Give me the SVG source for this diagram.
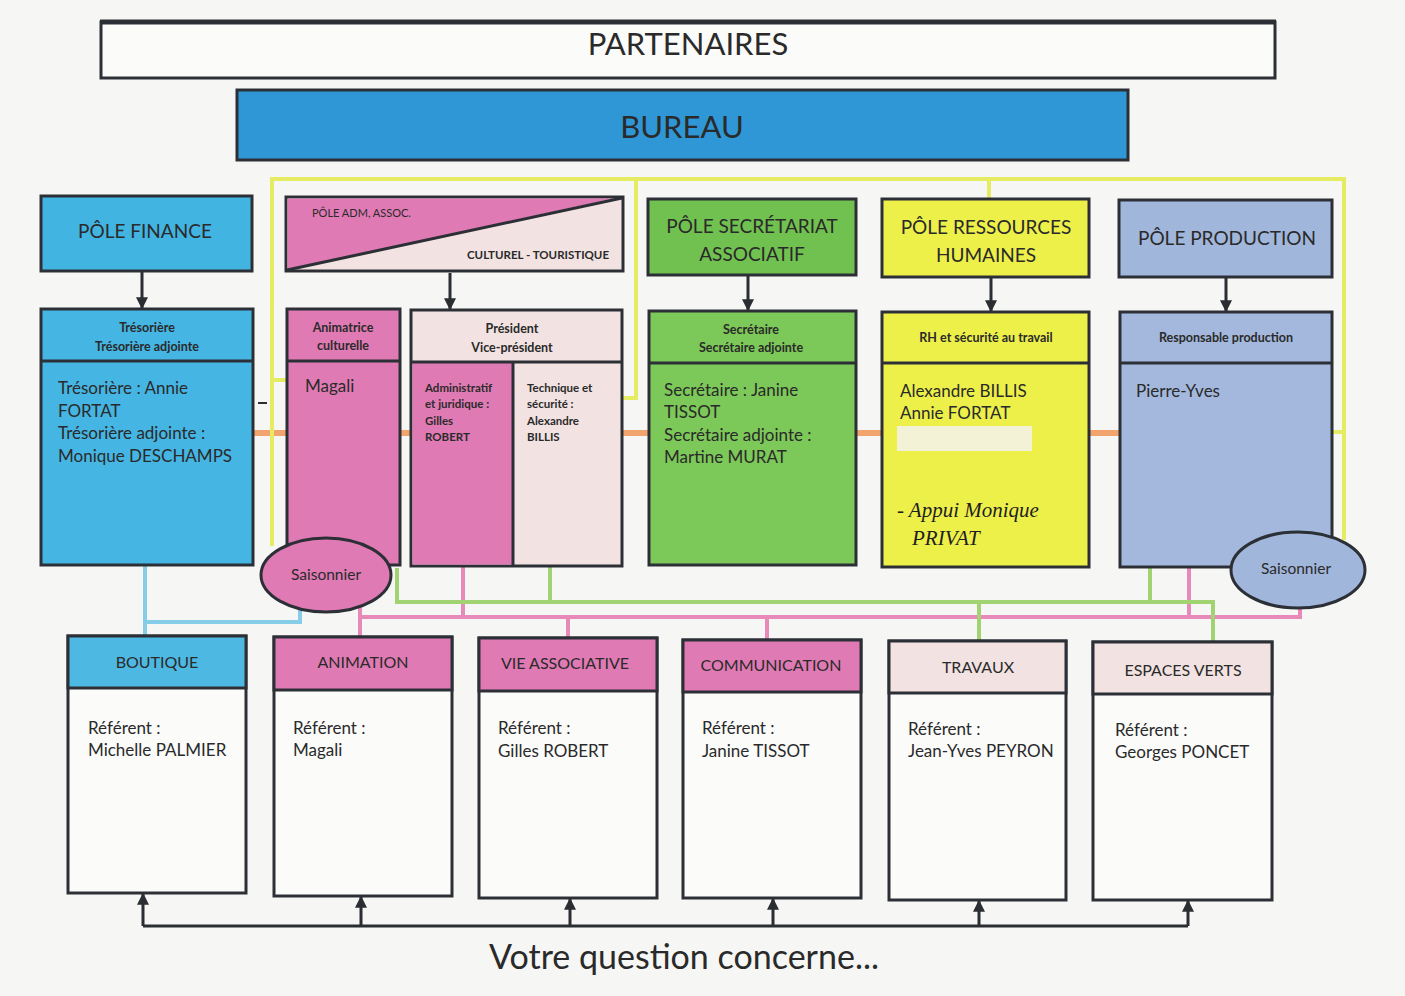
<svg xmlns="http://www.w3.org/2000/svg" width="1405" height="996" viewBox="0 0 1405 996">
<defs>
<marker id="ah" viewBox="0 0 10 10" refX="9" refY="5" markerWidth="4" markerHeight="4" orient="auto" markerUnits="strokeWidth"><path d="M0,0 L10,5 L0,10 z" fill="#2a2d31"/></marker>
<style>
.bx{stroke:#2c3036;stroke-width:3}
.t{font-family:Lato,"Liberation Sans",sans-serif;fill:#2a2a2a}
.big{font-size:31px;text-anchor:middle}
.pole{font-size:19px;text-anchor:middle}
.hd{font-size:12.5px;text-anchor:middle;font-weight:bold}
.body{font-size:17px}
.sm{font-size:11.5px;font-weight:bold}
.sub{font-size:16px;text-anchor:middle}
.hand{font-family:"Liberation Serif",serif;font-style:italic;font-size:21px;fill:#1e1e1e}
.arr{stroke:#2a2d31;stroke-width:3;fill:none;marker-end:url(#ah)}
.ly{stroke:#e6ec62;stroke-width:4;fill:none}
.lp{stroke:#e88ab9;stroke-width:4;fill:none}
.lg{stroke:#a2d372;stroke-width:4;fill:none}
.lb{stroke:#86cde8;stroke-width:4;fill:none}
.lo{stroke:#f2a46e;stroke-width:6;fill:none}
</style>
</defs>
<rect x="0" y="0" width="1405" height="996" fill="#f6f6f4"/>

<g id="connectors">
<path class="lo" d="M253,433H287M400,433H411M622,433H649M856,433H883M1089,433H1119"/>
<path class="ly" d="M272,546V179H1344V540M989,179V199M636,179V398H622M272,380H287M1331,432H1344"/>
<path class="lb" d="M145,566V636M145,622H300V608"/>
<path class="lp" d="M360,606V637M360,617H1300V607M463,567V617M568,617V638M767,617V641M1189,567V617"/>
<path class="lg" d="M397,568V602H1213V643M550,567V602M979,602V641M1150,567V602"/>
<path d="M258,403H267" stroke="#2a2d31" stroke-width="2"/>
<path class="arr" d="M142,271V308"/>
<path class="arr" d="M450,273V309"/>
<path class="arr" d="M748,275V310"/>
<path class="arr" d="M991,277V311"/>
<path class="arr" d="M1226,277V311"/>
<path d="M143,926H1188" stroke="#2a2d31" stroke-width="3" fill="none"/>
<path class="arr" d="M143,926V894"/>
<path class="arr" d="M361,926V897"/>
<path class="arr" d="M570,926V899"/>
<path class="arr" d="M773,926V899"/>
<path class="arr" d="M979,926V901"/>
<path class="arr" d="M1188,926V901"/>
</g>

<g id="partenaires">
<rect x="101" y="22" width="1174" height="56" fill="#fbfbfa" class="bx"/>
<line x1="100" y1="22" x2="1276" y2="22" stroke="#2c3036" stroke-width="5"/>
<text x="688" y="55" class="t big">PARTENAIRES</text>
</g>
<g id="bureau">
<rect x="237" y="90" width="891" height="70" fill="#2f97d5" class="bx"/>
<text x="682" y="138" class="t big">BUREAU</text>
</g>

<g id="pole-finance">
<rect x="41" y="196" width="211" height="75" fill="#42b4e2" class="bx"/>
<text x="145" y="238" class="t pole">PÔLE FINANCE</text>
</g>
<g id="tresoriere">
<rect x="41" y="309" width="212" height="256" fill="#45b5e3" class="bx"/>
<line x1="41" y1="361" x2="253" y2="361" class="bx"/>
<text x="147" y="332" class="t hd">Trésorière</text>
<text x="147" y="351" class="t hd">Trésorière adjointe</text>
<text class="t body"><tspan x="58" y="394">Trésorière : Annie</tspan><tspan x="58" y="417">FORTAT</tspan><tspan x="58" y="439">Trésorière adjointe :</tspan><tspan x="58" y="462">Monique DESCHAMPS</tspan></text>
</g>

<g id="pole-adm">
<rect x="286" y="197" width="337" height="74" fill="#f2e3e2" class="bx"/>
<polygon points="287.5,198.5 613,198.5 287.5,270" fill="#e07ab4"/>
<line x1="287" y1="270" x2="622" y2="198" stroke="#2c3036" stroke-width="3"/>
<text x="312" y="217" class="t" font-size="11">PÔLE ADM, ASSOC.</text>
<text x="609" y="259" class="t" font-size="11.5" text-anchor="end" font-weight="bold">CULTUREL - TOURISTIQUE</text>
</g>

<g id="animatrice">
<rect x="287" y="309" width="113" height="256" fill="#e07ab4" class="bx"/>
<line x1="287" y1="361" x2="400" y2="361" class="bx"/>
<text x="343" y="332" class="t hd">Animatrice</text>
<text x="343" y="350" class="t hd">culturelle</text>
<text x="305" y="392" class="t body">Magali</text>
</g>

<g id="president">
<rect x="411" y="310" width="211" height="256" fill="#f2e3e2" class="bx"/>
<rect x="412.5" y="362" width="100" height="202.5" fill="#e07ab4"/>
<line x1="411" y1="362" x2="622" y2="362" class="bx"/>
<line x1="513" y1="362" x2="513" y2="566" class="bx"/>
<text x="512" y="333" class="t hd">Président</text>
<text x="512" y="352" class="t hd">Vice-président</text>
<text class="t sm"><tspan x="425" y="392">Administratif</tspan><tspan x="425" y="408">et juridique :</tspan><tspan x="425" y="425">Gilles</tspan><tspan x="425" y="441">ROBERT</tspan></text>
<text class="t sm"><tspan x="527" y="392">Technique et</tspan><tspan x="527" y="408">sécurité :</tspan><tspan x="527" y="425">Alexandre</tspan><tspan x="527" y="441">BILLIS</tspan></text>
</g>

<g id="pole-secretariat">
<rect x="648" y="199" width="208" height="76" fill="#70c150" class="bx"/>
<text x="752" y="233" class="t pole">PÔLE SECRÉTARIAT</text>
<text x="752" y="261" class="t pole">ASSOCIATIF</text>
</g>
<g id="secretaire">
<rect x="649" y="311" width="207" height="254" fill="#7cc858" class="bx"/>
<line x1="649" y1="363" x2="856" y2="363" class="bx"/>
<text x="751" y="334" class="t hd">Secrétaire</text>
<text x="751" y="352" class="t hd">Secrétaire adjointe</text>
<text class="t body"><tspan x="664" y="396">Secrétaire : Janine</tspan><tspan x="664" y="418">TISSOT</tspan><tspan x="664" y="441">Secrétaire adjointe :</tspan><tspan x="664" y="463">Martine MURAT</tspan></text>
</g>

<g id="pole-rh">
<rect x="882" y="199" width="207" height="78" fill="#eef04a" class="bx"/>
<text x="986" y="234" class="t pole">PÔLE RESSOURCES</text>
<text x="986" y="262" class="t pole">HUMAINES</text>
</g>
<g id="rh">
<rect x="882" y="312" width="207" height="255" fill="#eef04a" class="bx"/>
<line x1="882" y1="363" x2="1089" y2="363" class="bx"/>
<text x="986" y="342" class="t hd">RH et sécurité au travail</text>
<text class="t body"><tspan x="900" y="397">Alexandre BILLIS</tspan><tspan x="900" y="419">Annie FORTAT</tspan></text>
<rect x="897" y="426" width="135" height="25" fill="#f4f2d6"/>
<text class="hand"><tspan x="897" y="517">- Appui Monique</tspan><tspan x="912" y="545">PRIVAT</tspan></text>
</g>

<g id="pole-production">
<rect x="1119" y="200" width="213" height="77" fill="#a1b6db" class="bx"/>
<text x="1227" y="245" class="t pole">PÔLE PRODUCTION</text>
</g>
<g id="production">
<rect x="1120" y="312" width="212" height="255" fill="#a3b8dc" class="bx"/>
<line x1="1120" y1="363" x2="1332" y2="363" class="bx"/>
<text x="1226" y="342" class="t hd">Responsable production</text>
<text x="1136" y="397" class="t body">Pierre-Yves</text>
</g>

<g id="saisonnier-1">
<ellipse cx="326" cy="575" rx="65" ry="37" fill="#e07ab4" class="bx"/>
<text x="326" y="580" class="t" font-size="15.5" text-anchor="middle">Saisonnier</text>
</g>
<g id="saisonnier-2">
<ellipse cx="1298" cy="570" rx="67" ry="38" fill="#a1b6db" class="bx"/>
<text x="1296" y="574" class="t" font-size="15.5" text-anchor="middle">Saisonnier</text>
</g>

<g id="boutique">
<rect x="68" y="636" width="178" height="257" fill="#fbfbfa" class="bx"/>
<rect x="68" y="636" width="178" height="52" fill="#4db8e2" class="bx"/>
<text x="157" y="668" class="t sub">BOUTIQUE</text>
<text class="t body"><tspan x="88" y="734">Référent :</tspan><tspan x="88" y="756">Michelle PALMIER</tspan></text>
</g>
<g id="animation">
<rect x="274" y="637" width="178" height="259" fill="#fbfbfa" class="bx"/>
<rect x="274" y="637" width="178" height="53" fill="#e07ab4" class="bx"/>
<text x="363" y="668" class="t sub">ANIMATION</text>
<text class="t body"><tspan x="293" y="734">Référent :</tspan><tspan x="293" y="756">Magali</tspan></text>
</g>
<g id="vie-associative">
<rect x="479" y="638" width="178" height="260" fill="#fbfbfa" class="bx"/>
<rect x="479" y="638" width="178" height="53" fill="#e07ab4" class="bx"/>
<text x="565" y="669" class="t sub">VIE ASSOCIATIVE</text>
<text class="t body"><tspan x="498" y="734">Référent :</tspan><tspan x="498" y="757">Gilles ROBERT</tspan></text>
</g>
<g id="communication">
<rect x="683" y="640" width="178" height="258" fill="#fbfbfa" class="bx"/>
<rect x="683" y="640" width="178" height="52" fill="#e07ab4" class="bx"/>
<text x="771" y="671" class="t sub">COMMUNICATION</text>
<text class="t body"><tspan x="702" y="734">Référent :</tspan><tspan x="702" y="757">Janine TISSOT</tspan></text>
</g>
<g id="travaux">
<rect x="889" y="641" width="177" height="259" fill="#fbfbfa" class="bx"/>
<rect x="889" y="641" width="177" height="52" fill="#f2e3e2" class="bx"/>
<text x="978" y="673" class="t sub">TRAVAUX</text>
<text class="t body"><tspan x="908" y="735">Référent :</tspan><tspan x="908" y="757">Jean-Yves PEYRON</tspan></text>
</g>
<g id="espaces-verts">
<rect x="1093" y="642" width="179" height="258" fill="#fbfbfa" class="bx"/>
<rect x="1093" y="642" width="179" height="52" fill="#f2e3e2" class="bx"/>
<text x="1183" y="676" class="t sub">ESPACES VERTS</text>
<text class="t body"><tspan x="1115" y="736">Référent :</tspan><tspan x="1115" y="758">Georges PONCET</tspan></text>
</g>

<text x="684" y="969" class="t" font-size="34" text-anchor="middle">Votre question concerne...</text>
</svg>
